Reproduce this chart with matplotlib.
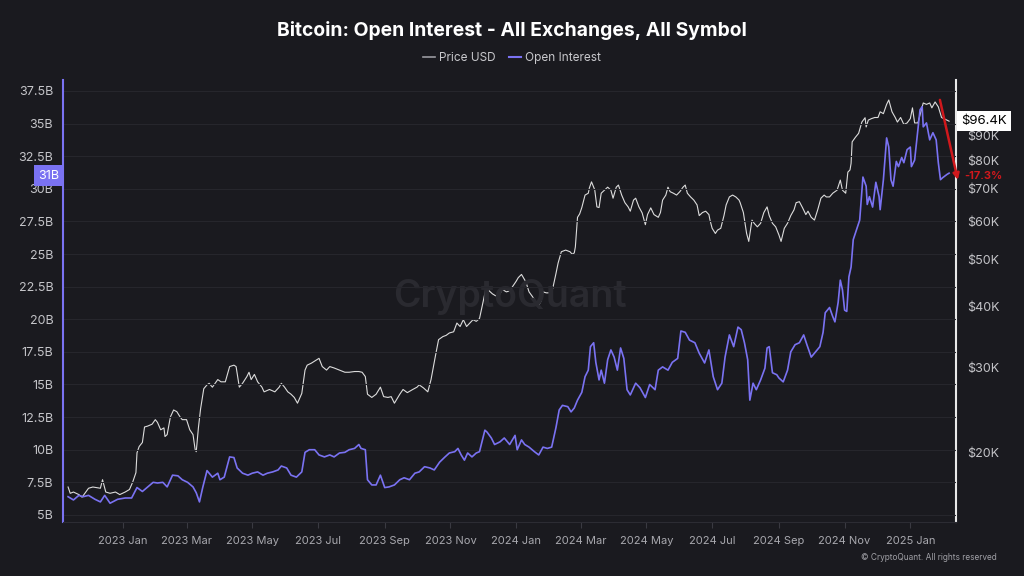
import numpy as np
import pandas as pd
import matplotlib
matplotlib.use("Agg")
import matplotlib.pyplot as plt
import matplotlib.dates as mdates
import matplotlib.ticker as mticker
from matplotlib.transforms import blended_transform_factory

plt.rcParams['font.family'] = ['Inter', 'DejaVu Sans']

# ---- data ----
oi_dates = [
    '2022-11-11', '2022-11-16', '2022-11-21', '2022-11-25', '2022-11-30', '2022-12-06', '2022-12-11',
    '2022-12-15', '2022-12-20', '2022-12-27', '2023-01-03', '2023-01-09', '2023-01-14', '2023-01-19',
    '2023-01-24', '2023-01-29', '2023-02-02', '2023-02-07', '2023-02-11', '2023-02-16', '2023-02-21',
    '2023-02-25', '2023-03-02', '2023-03-07', '2023-03-10', '2023-03-13', '2023-03-16', '2023-03-20',
    '2023-03-25', '2023-03-30', '2023-04-01', '2023-04-05', '2023-04-10', '2023-04-14', '2023-04-17',
    '2023-04-22', '2023-04-27', '2023-05-01', '2023-05-06', '2023-05-11', '2023-05-15', '2023-05-20',
    '2023-05-25', '2023-05-28', '2023-06-02', '2023-06-06', '2023-06-11', '2023-06-16', '2023-06-19',
    '2023-06-23', '2023-06-28', '2023-07-02', '2023-07-07', '2023-07-12', '2023-07-16', '2023-07-21',
    '2023-07-26', '2023-07-30', '2023-08-04', '2023-08-08', '2023-08-10', '2023-08-14', '2023-08-16',
    '2023-08-20', '2023-08-24', '2023-08-28', '2023-09-01', '2023-09-05', '2023-09-10', '2023-09-15',
    '2023-09-19', '2023-09-24', '2023-09-29', '2023-10-03', '2023-10-08', '2023-10-13', '2023-10-17',
    '2023-10-22', '2023-10-27', '2023-10-31', '2023-11-05', '2023-11-08', '2023-11-11', '2023-11-14',
    '2023-11-17', '2023-11-21', '2023-11-25', '2023-11-28', '2023-12-03', '2023-12-05', '2023-12-09',
    '2023-12-12', '2023-12-17', '2023-12-21', '2023-12-26', '2023-12-31', '2024-01-02', '2024-01-06',
    '2024-01-09', '2024-01-13', '2024-01-18', '2024-01-22', '2024-01-26', '2024-01-30', '2024-02-03',
    '2024-02-07', '2024-02-10', '2024-02-13', '2024-02-18', '2024-02-21', '2024-02-24', '2024-02-27',
    '2024-03-02', '2024-03-05', '2024-03-08', '2024-03-10', '2024-03-13', '2024-03-15', '2024-03-18',
    '2024-03-20', '2024-03-23', '2024-03-26', '2024-03-29', '2024-04-01', '2024-04-04', '2024-04-07',
    '2024-04-10', '2024-04-13', '2024-04-16', '2024-04-21', '2024-04-25', '2024-04-30', '2024-05-04',
    '2024-05-09', '2024-05-12', '2024-05-16', '2024-05-21', '2024-05-25', '2024-05-30', '2024-06-02',
    '2024-06-06', '2024-06-10', '2024-06-15', '2024-06-19', '2024-06-24', '2024-06-28', '2024-07-02',
    '2024-07-06', '2024-07-10', '2024-07-13', '2024-07-17', '2024-07-21', '2024-07-25', '2024-07-28',
    '2024-07-31', '2024-08-03', '2024-08-05', '2024-08-08', '2024-08-11', '2024-08-15', '2024-08-19',
    '2024-08-21', '2024-08-23', '2024-08-26', '2024-08-30', '2024-09-01', '2024-09-05', '2024-09-09',
    '2024-09-12', '2024-09-16', '2024-09-20', '2024-09-24', '2024-09-27', '2024-10-01', '2024-10-05',
    '2024-10-09', '2024-10-12', '2024-10-14', '2024-10-18', '2024-10-21', '2024-10-23', '2024-10-26',
    '2024-10-28', '2024-10-30', '2024-11-01', '2024-11-03', '2024-11-05', '2024-11-07', '2024-11-09',
    '2024-11-12', '2024-11-15', '2024-11-18', '2024-11-21', '2024-11-22', '2024-11-24', '2024-11-27',
    '2024-11-30', '2024-12-03', '2024-12-04', '2024-12-07', '2024-12-10', '2024-12-12', '2024-12-14',
    '2024-12-16', '2024-12-19', '2024-12-21', '2024-12-24', '2024-12-26', '2024-12-29', '2025-01-01',
    '2025-01-02', '2025-01-05', '2025-01-08', '2025-01-10', '2025-01-12', '2025-01-13', '2025-01-16',
    '2025-01-19', '2025-01-22', '2025-01-25', '2025-01-27', '2025-01-29', '2025-01-31', '2025-02-04',
    '2025-02-06',
]
oi_values = [  # billions USD
    6.4, 6.15, 6.5, 6.4, 6.5, 6.2, 6.0,
    6.5, 5.9, 6.2, 6.3, 6.3, 7.1, 6.8,
    7.15, 7.5, 7.45, 7.5, 7.15, 8.05, 8.0,
    7.7, 7.5, 7.15, 6.7, 6.0, 7.1, 8.4,
    7.9, 8.2, 7.7, 7.9, 9.45, 9.4, 8.6,
    8.2, 8.05, 8.2, 8.3, 8.05, 8.2, 8.3,
    8.45, 8.75, 8.6, 8.05, 7.9, 8.3, 9.8,
    10.0, 10.0, 9.6, 9.45, 9.6, 9.45, 9.75,
    9.8, 10.0, 10.1, 10.4, 10.1, 10.0, 7.7,
    7.3, 7.3, 8.05, 7.1, 7.15, 7.3, 7.7,
    7.85, 7.7, 8.2, 8.3, 8.7, 8.6, 8.45,
    9.05, 9.45, 9.75, 9.85, 10.1, 9.6, 9.2,
    9.75, 9.45, 9.75, 9.85, 11.5, 11.35, 10.9,
    10.4, 10.6, 10.9, 10.4, 11.1, 10.0, 10.75,
    10.4, 10.2, 9.85, 9.6, 10.2, 10.1, 10.2,
    11.7, 13.05, 13.4, 13.3, 12.9, 13.2, 13.8,
    14.4, 15.6, 16.1, 17.9, 18.2, 16.7, 15.35,
    16.1, 15.1, 16.9, 17.65, 17.1, 16.1, 17.8,
    17.0, 14.6, 14.2, 15.1, 14.75, 14.0, 15.0,
    14.6, 16.1, 16.35, 16.1, 16.7, 17.0, 19.1,
    19.0, 18.4, 18.2, 17.4, 16.65, 17.65, 15.6,
    14.6, 15.1, 17.1, 18.8, 17.9, 19.4, 19.2,
    18.2, 16.9, 13.8, 15.1, 14.6, 15.35, 16.25,
    17.8, 17.9, 15.9, 15.75, 15.5, 15.2, 16.1,
    17.5, 18.05, 18.2, 18.8, 18.05, 17.1, 17.5,
    17.9, 19.0, 20.5, 20.9, 20.2, 19.8, 21.3,
    23.0, 22.25, 20.7, 20.6, 23.25, 24.0, 26.1,
    26.85, 27.6, 30.9, 30.2, 28.8, 29.4, 28.6,
    30.5, 29.4, 28.4, 30.7, 33.9, 33.2, 30.7,
    30.2, 32.1, 31.7, 32.4, 32.0, 33.0, 33.2,
    31.7, 32.2, 34.5, 36.05, 36.3, 34.75, 35.05,
    33.75, 34.3, 33.75, 32.0, 30.7, 30.85, 31.1,
    31.2,
]

price_dates = [
    '2022-11-11', '2022-11-13', '2022-11-16', '2022-11-21', '2022-11-24', '2022-11-30', '2022-12-04',
    '2022-12-11', '2022-12-13', '2022-12-16', '2022-12-20', '2022-12-25', '2022-12-29', '2023-01-03',
    '2023-01-07', '2023-01-10', '2023-01-13', '2023-01-14', '2023-01-16', '2023-01-19', '2023-01-21',
    '2023-01-24', '2023-01-28', '2023-01-31', '2023-02-02', '2023-02-05', '2023-02-08', '2023-02-09',
    '2023-02-11', '2023-02-14', '2023-02-17', '2023-02-20', '2023-02-23', '2023-02-25', '2023-03-01',
    '2023-03-04', '2023-03-07', '2023-03-09', '2023-03-10', '2023-03-12', '2023-03-14', '2023-03-17',
    '2023-03-20', '2023-03-22', '2023-03-25', '2023-03-30', '2023-04-02', '2023-04-06', '2023-04-10',
    '2023-04-14', '2023-04-16', '2023-04-19', '2023-04-22', '2023-04-26', '2023-04-28', '2023-04-30',
    '2023-05-03', '2023-05-06', '2023-05-10', '2023-05-12', '2023-05-17', '2023-05-22', '2023-05-26',
    '2023-05-28', '2023-05-31', '2023-06-03', '2023-06-06', '2023-06-09', '2023-06-12', '2023-06-16',
    '2023-06-19', '2023-06-21', '2023-06-25', '2023-06-30', '2023-07-02', '2023-07-05', '2023-07-09',
    '2023-07-12', '2023-07-16', '2023-07-21', '2023-07-26', '2023-07-30', '2023-08-04', '2023-08-08',
    '2023-08-11', '2023-08-14', '2023-08-16', '2023-08-20', '2023-08-24', '2023-08-28', '2023-08-31',
    '2023-09-04', '2023-09-07', '2023-09-10', '2023-09-15', '2023-09-18', '2023-09-22', '2023-09-27',
    '2023-10-01', '2023-10-03', '2023-10-07', '2023-10-11', '2023-10-14', '2023-10-16', '2023-10-18',
    '2023-10-21', '2023-10-25', '2023-10-28', '2023-10-31', '2023-11-04', '2023-11-07', '2023-11-10',
    '2023-11-13', '2023-11-16', '2023-11-19', '2023-11-22', '2023-11-25', '2023-11-28', '2023-12-01',
    '2023-12-04', '2023-12-07', '2023-12-10', '2023-12-13', '2023-12-17', '2023-12-19', '2023-12-23',
    '2023-12-26', '2023-12-29', '2024-01-01', '2024-01-03', '2024-01-06', '2024-01-10', '2024-01-13',
    '2024-01-16', '2024-01-19', '2024-01-21', '2024-01-24', '2024-01-26', '2024-01-29', '2024-02-01',
    '2024-02-04', '2024-02-07', '2024-02-09', '2024-02-12', '2024-02-16', '2024-02-20', '2024-02-22',
    '2024-02-24', '2024-02-25', '2024-02-27', '2024-02-29', '2024-03-02', '2024-03-05', '2024-03-08',
    '2024-03-09', '2024-03-11', '2024-03-14', '2024-03-16', '2024-03-18', '2024-03-20', '2024-03-23',
    '2024-03-26', '2024-03-29', '2024-03-31', '2024-04-03', '2024-04-05', '2024-04-08', '2024-04-11',
    '2024-04-14', '2024-04-16', '2024-04-19', '2024-04-21', '2024-04-24', '2024-04-27', '2024-04-30',
    '2024-05-02', '2024-05-05', '2024-05-08', '2024-05-12', '2024-05-14', '2024-05-16', '2024-05-19',
    '2024-05-21', '2024-05-23', '2024-05-26', '2024-05-29', '2024-06-01', '2024-06-04', '2024-06-06',
    '2024-06-08', '2024-06-11', '2024-06-14', '2024-06-17', '2024-06-19', '2024-06-22', '2024-06-25',
    '2024-06-28', '2024-06-29', '2024-07-01', '2024-07-04', '2024-07-06', '2024-07-09', '2024-07-12',
    '2024-07-14', '2024-07-17', '2024-07-20', '2024-07-23', '2024-07-26', '2024-07-27', '2024-07-30',
    '2024-08-02', '2024-08-04', '2024-08-07', '2024-08-09', '2024-08-12', '2024-08-15', '2024-08-18',
    '2024-08-21', '2024-08-23', '2024-08-26', '2024-08-29', '2024-09-01', '2024-09-03', '2024-09-06',
    '2024-09-09', '2024-09-12', '2024-09-15', '2024-09-17', '2024-09-20', '2024-09-23', '2024-09-26',
    '2024-09-28', '2024-10-01', '2024-10-04', '2024-10-07', '2024-10-10', '2024-10-13', '2024-10-15',
    '2024-10-18', '2024-10-21', '2024-10-25', '2024-10-28', '2024-10-30', '2024-11-02', '2024-11-04',
    '2024-11-06', '2024-11-07', '2024-11-08', '2024-11-11', '2024-11-14', '2024-11-17', '2024-11-20',
    '2024-11-21', '2024-11-23', '2024-11-26', '2024-11-29', '2024-12-02', '2024-12-04', '2024-12-07',
    '2024-12-10', '2024-12-12', '2024-12-15', '2024-12-18', '2024-12-20', '2024-12-23', '2024-12-26',
    '2024-12-29', '2025-01-01', '2025-01-03', '2025-01-05', '2025-01-08', '2025-01-10', '2025-01-13',
    '2025-01-16', '2025-01-19', '2025-01-21', '2025-01-24', '2025-01-27', '2025-01-30', '2025-02-01',
    '2025-02-04', '2025-02-06',
]
price_values = [  # thousands USD
    17.0, 16.5, 16.6, 16.4, 16.2, 16.9, 17.0,
    16.9, 17.6, 16.6, 16.5, 16.6, 16.4, 16.6,
    16.8, 17.4, 18.2, 20.0, 20.6, 21.0, 22.6,
    22.7, 22.9, 23.4, 23.1, 22.3, 22.5, 21.6,
    21.8, 23.7, 24.5, 24.3, 23.7, 23.4, 23.4,
    22.3, 21.8, 20.3, 20.1, 22.5, 24.6, 27.1,
    27.6, 27.8, 27.3, 28.3, 28.0, 28.0, 30.1,
    30.3, 30.1, 27.3, 27.8, 28.7, 29.3, 28.3,
    29.0, 28.0, 27.3, 26.7, 27.0, 26.7, 27.3,
    27.8, 27.3, 26.7, 26.4, 26.0, 25.3, 26.5,
    29.6, 30.3, 30.6, 31.1, 31.3, 30.1, 29.6,
    30.1, 29.9, 29.6, 29.3, 29.3, 29.4, 29.4,
    29.3, 28.7, 26.4, 26.0, 26.4, 27.3, 26.1,
    26.0, 26.1, 25.3, 26.4, 27.0, 26.6, 27.0,
    27.3, 27.6, 27.2, 26.7, 28.3, 29.9, 31.6,
    34.2, 34.7, 34.9, 35.3, 35.5, 37.0, 36.4,
    37.6, 36.4, 37.0, 37.6, 37.3, 37.8, 40.6,
    43.6, 43.1, 42.5, 42.1, 42.5, 43.4, 42.9,
    43.1, 44.1, 45.1, 45.9, 46.6, 45.0, 42.9,
    42.0, 41.0, 40.0, 41.0, 42.9, 42.7, 42.7,
    43.6, 46.8, 49.2, 51.9, 52.3, 51.9, 51.3,
    51.6, 53.1, 61.1, 62.1, 64.0, 67.9, 68.5,
    70.2, 72.3, 69.6, 64.2, 64.0, 68.5, 69.5,
    70.5, 69.5, 66.9, 70.5, 71.2, 67.9, 65.5,
    64.2, 62.9, 66.3, 66.9, 64.2, 62.4, 59.0,
    61.9, 63.9, 61.9, 61.1, 62.5, 66.3, 67.9,
    70.5, 69.0, 68.5, 67.9, 69.0, 70.5, 71.2,
    68.5, 67.3, 66.3, 64.8, 61.6, 62.5, 62.9,
    61.9, 60.3, 58.0, 56.6, 57.5, 58.0, 61.6,
    64.8, 67.3, 67.9, 67.3, 66.3, 65.5, 62.5,
    56.6, 54.5, 60.3, 59.4, 58.4, 59.4, 62.5,
    64.2, 61.6, 59.4, 58.4, 56.2, 54.5, 58.0,
    59.4, 61.6, 63.3, 65.5, 65.8, 63.9, 61.9,
    62.9, 61.1, 60.3, 63.3, 66.9, 67.9, 67.3,
    67.3, 68.5, 69.5, 72.9, 69.5, 68.5, 75.7,
    76.5, 78.9, 87.4, 89.3, 91.0, 96.0, 98.0,
    93.8, 96.9, 97.6, 98.1, 98.1, 100.8, 99.9,
    104.4, 106.6, 100.8, 98.1, 96.0, 98.1, 94.9,
    95.6, 97.6, 102.7, 95.6, 95.6, 99.3, 105.1,
    104.4, 105.1, 102.7, 105.6, 103.2, 98.1, 97.6,
    96.9, 96.4,
]

oi_ticks = [5, 7.5, 10, 12.5, 15, 17.5, 20, 22.5, 25, 27.5, 30, 32.5, 35, 37.5]
price_ticks = [20, 30, 40, 50, 60, 70, 80, 90]
last_oi = 31
last_price = 96.4
drop_pct = -17.3

# ---- style ----
bg = '#1a1a1f'
oi_color = '#7a72f2'
price_color = '#dcdcdc'
tick_color = '#c4c4c8'

oi_x = pd.to_datetime(oi_dates)
price_x = pd.to_datetime(price_dates)

fig = plt.figure(figsize=(10.24, 5.76), dpi=100, facecolor=bg)
ax = fig.add_axes([63 / 1024, 1 - 522 / 576, (956 - 63) / 1024, (522 - 80) / 576])
ax.set_facecolor(bg)
ax2 = ax.twinx()

# price on the log right axis
ax2.plot(price_x, np.array(price_values) * 1000, color=price_color, lw=0.8, zorder=2)
ax2.set_yscale('log')
ax2.set_ylim(14400, 117200)
ax2.yaxis.set_major_locator(mticker.FixedLocator([v * 1000 for v in price_ticks]))
ax2.yaxis.set_minor_locator(mticker.NullLocator())
ax2.yaxis.set_major_formatter(mticker.FuncFormatter(lambda v, p: f'${v / 1000:.0f}K'))

# open interest on the left axis, drawn above the price
ax.plot(oi_x, oi_values, color=oi_color, lw=1.2)
ax.set_ylim(4.46, 38.34)
ax.set_yticks(oi_ticks)
ax.yaxis.set_major_formatter(mticker.FuncFormatter(lambda v, p: f'{v:g}B'))
ax.grid(axis='y', color='#26262c', lw=0.8)
ax.set_zorder(ax2.get_zorder() + 1)
ax.patch.set_visible(False)
ax2.patch.set_facecolor(bg)

ax.set_xlim(pd.Timestamp('2022-11-06 07:00'), pd.Timestamp('2025-02-12 10:00'))
ax.xaxis.set_major_locator(mdates.MonthLocator(bymonth=[1, 3, 5, 7, 9, 11]))
ax.xaxis.set_major_formatter(mdates.DateFormatter('%Y %b'))

for a in (ax, ax2):
    for s in a.spines.values():
        s.set_visible(False)
ax.spines['left'].set_visible(True)
ax.spines['left'].set_color(oi_color)
ax.spines['left'].set_linewidth(1.5)
ax2.spines['right'].set_visible(True)
ax2.spines['right'].set_color('#e8e8e8')
ax2.spines['right'].set_linewidth(1.5)
ax.spines['bottom'].set_visible(True)
ax.spines['bottom'].set_color('#2c2c33')

ax.tick_params(axis='y', length=0, pad=7, labelsize=9, labelcolor=tick_color)
ax2.tick_params(axis='y', length=0, pad=8, labelsize=9, labelcolor=tick_color)
ax.tick_params(axis='x', length=4, color='#3a3a42', pad=6, labelsize=8, labelcolor='#a8a8ae')

# watermark
ax.text(0.5, 0.51, 'CryptoQuant', transform=ax.transAxes, ha='center', va='center',
        fontsize=27, fontweight='semibold', color='#2a2a30', zorder=0)

# last value labels
bl = blended_transform_factory(ax.transAxes, ax.transData)
ax.text(-0.004, last_oi, f'{last_oi}B', transform=bl, ha='right', va='center', fontsize=9,
        color='white', zorder=10, clip_on=False,
        bbox=dict(boxstyle='square,pad=0.35', fc=oi_color, ec='none'))
br = blended_transform_factory(ax2.transAxes, ax2.transData)
ax.text(1.006, last_price * 1000, f'${last_price}K', transform=br, ha='left', va='center',
        fontsize=9.5, color='black', zorder=10, clip_on=False,
        bbox=dict(boxstyle='square,pad=0.3', fc='white', ec='none'))

# drawdown arrow
ax.annotate('', xy=(1.002, 0.774), xytext=(0.982, 0.955), xycoords='axes fraction',
            annotation_clip=False,
            arrowprops=dict(arrowstyle='-|>', color='#d0181c', lw=1.8, mutation_scale=9,
                            shrinkA=0, shrinkB=0))
ax.text(1.009, 0.783, f'{drop_pct}%', transform=ax.transAxes, ha='left', va='center',
        fontsize=8, fontweight='bold', color='#d0181c', clip_on=False, zorder=11)

# title, legend, footer
fig.text(0.5, 1 - 31 / 576, 'Bitcoin: Open Interest - All Exchanges, All Symbol',
         ha='center', va='center', fontsize=13.9, fontweight='bold', color='white')
handles = [plt.Line2D([], [], color='#9a9aa0', lw=1.2), plt.Line2D([], [], color=oi_color, lw=1.5)]
fig.legend(handles, ['Price USD', 'Open Interest'], loc='center', bbox_to_anchor=(0.5, 1 - 58 / 576),
           ncol=2, frameon=False, handlelength=1.0, handletextpad=0.4, columnspacing=1.1,
           fontsize=8.5, labelcolor='#c8c8cc')
fig.text(0.973, 1 - 558 / 576, '© CryptoQuant. All rights reserved', ha='right', va='center',
         fontsize=6, color='#a0a0a6')

fig.savefig('out.png', dpi=100, facecolor=bg)
